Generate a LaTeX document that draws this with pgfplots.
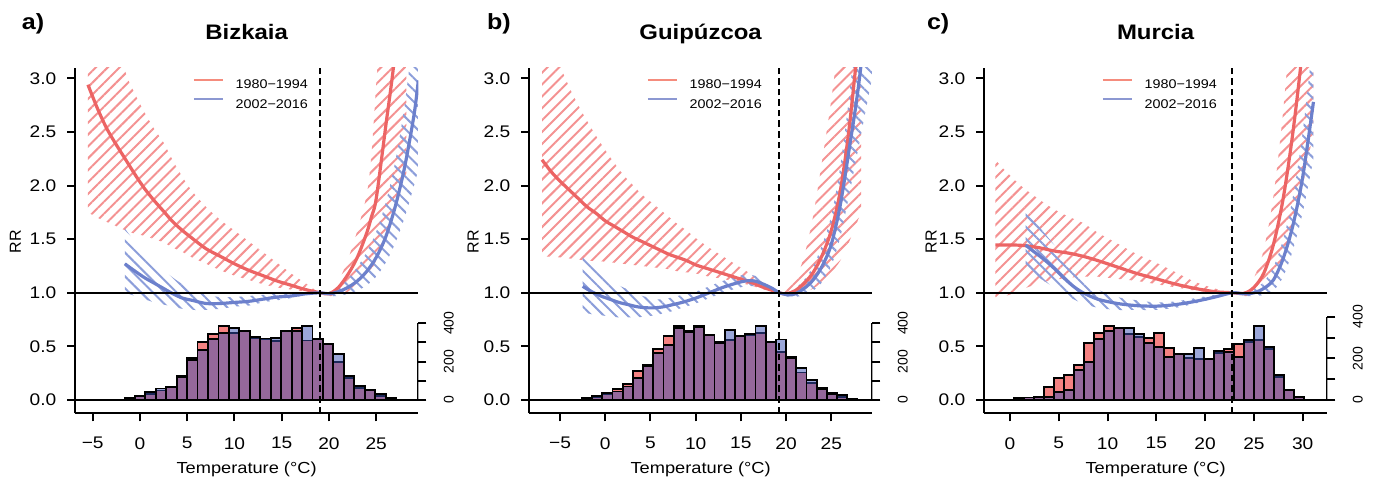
\documentclass[border=0pt]{standalone}
\usepackage{fontspec}
\setmainfont{Liberation Sans}[FakeStretch=1.14]
\newfontfamily\uprightsans{Liberation Sans}
\usepackage{pgfplots}
\usepackage{pgfplotstable}
\pgfplotsset{compat=1.18}
\usepgfplotslibrary{fillbetween}
\usetikzlibrary{patterns.meta}

\definecolor{hatchred}{RGB}{244,146,146}
\definecolor{hatchblue}{RGB}{140,158,218}
\definecolor{curvered}{RGB}{236,100,100}
\definecolor{curveblue}{RGB}{108,128,204}
\definecolor{histred}{RGB}{245,130,130}
\definecolor{histblue}{RGB}{55,80,180}
\definecolor{legred}{RGB}{245,140,125}
\definecolor{legblue}{RGB}{140,152,210}

\newcommand\ticksize{\fontsize{8.4bp}{9bp}\selectfont}
\newcommand\titlesize{\fontsize{10.5bp}{12bp}\selectfont\bfseries}
\newcommand\lettersize{\fontsize{11bp}{12bp}\selectfont\bfseries}
\newcommand\labsize{\fontsize{8bp}{9bp}\selectfont}
\newcommand\rrsize{\uprightsans\fontsize{8bp}{9bp}\selectfont}
\newcommand\legsize{\fontsize{6.3bp}{7bp}\selectfont}
\newcommand\countsize{\uprightsans\fontsize{7bp}{8bp}\selectfont}

% ---------- relative risk curves: T, RR, lower and upper bound ----------
\pgfplotstableread{
T rr lo hi
-5.5 2.94 1.75 5.00
-4.5 2.72 1.70 4.40
-3.5 2.53 1.66 3.90
-2.5 2.38 1.62 3.45
-1.5 2.24 1.58 3.05
-0.5 2.10 1.55 2.85
0.5 1.97 1.53 2.68
1.5 1.86 1.50 2.53
2.5 1.76 1.47 2.40
3.5 1.66 1.42 2.23
4.5 1.58 1.38 2.08
5.5 1.51 1.33 1.95
7.0 1.41 1.27 1.80
8.5 1.34 1.21 1.68
10.0 1.27 1.16 1.58
11.5 1.21 1.12 1.48
13.0 1.16 1.08 1.38
14.5 1.11 1.05 1.28
16.0 1.07 1.03 1.18
17.5 1.03 1.01 1.09
19.1 1.00 1.00 1.00
20.0 0.99 0.97 1.03
21.0 1.05 0.98 1.11
22.0 1.17 1.01 1.31
23.0 1.33 1.06 1.58
24.0 1.56 1.15 1.92
24.5 1.71 1.22 2.30
25.0 1.88 1.30 2.95
26.0 2.55 1.52 4.20
27.0 3.25 1.83 5.60
28.2 4.50 2.12 7.50
}\curveRA

\pgfplotstableread{
T rr lo hi
-1.6 1.27 1.00 1.60
-0.5 1.20 0.97 1.47
0.5 1.14 0.94 1.37
1.5 1.09 0.91 1.29
2.5 1.04 0.89 1.21
3.5 0.99 0.87 1.14
4.5 0.95 0.85 1.08
5.5 0.93 0.84 1.03
7.0 0.90 0.84 0.98
8.5 0.90 0.85 0.96
10.0 0.91 0.87 0.96
11.5 0.92 0.88 0.97
13.0 0.94 0.91 0.98
14.5 0.96 0.93 0.99
16.0 0.97 0.95 1.00
17.5 0.99 0.98 1.00
19.1 1.00 1.00 1.00
20.0 0.99 0.97 1.01
21.0 1.01 0.97 1.05
22.0 1.05 0.99 1.13
23.0 1.11 1.02 1.24
24.0 1.20 1.07 1.38
25.0 1.33 1.15 1.57
26.0 1.52 1.28 1.84
27.0 1.80 1.46 2.22
28.0 2.17 1.70 2.75
29.0 2.66 2.00 3.50
29.45 2.98 2.15 4.00
}\curveBA

\pgfplotstableread{
T rr lo hi
-7.0 2.24 1.34 3.70
-6.0 2.13 1.335 3.40
-5.0 2.04 1.33 3.12
-4.0 1.96 1.32 2.92
-3.0 1.88 1.31 2.75
-2.0 1.80 1.30 2.60
-1.0 1.74 1.295 2.46
0.0 1.67 1.29 2.33
1.0 1.62 1.28 2.21
2.0 1.57 1.27 2.10
3.0 1.52 1.26 2.01
4.0 1.48 1.25 1.92
5.0 1.44 1.24 1.85
6.0 1.40 1.23 1.78
7.0 1.36 1.22 1.71
8.0 1.33 1.20 1.64
9.0 1.30 1.19 1.58
10.0 1.26 1.18 1.51
11.5 1.22 1.15 1.42
13.0 1.18 1.13 1.34
14.5 1.14 1.10 1.26
16.0 1.10 1.07 1.18
17.5 1.05 1.03 1.09
19.25 1.00 1.00 1.00
20.0 0.99 0.97 1.03
21.0 1.02 0.98 1.12
22.0 1.09 1.00 1.34
23.0 1.19 1.04 1.72
24.0 1.35 1.10 2.24
25.0 1.58 1.19 2.80
26.0 1.95 1.30 3.50
27.0 2.55 1.48 4.50
28.3 3.60 1.75 6.50
}\curveRB

\pgfplotstableread{
T rr lo hi
-2.5 1.06 0.82 1.36
-1.5 1.01 0.80 1.28
-0.5 0.97 0.79 1.20
0.5 0.94 0.78 1.13
1.5 0.91 0.77 1.07
2.5 0.89 0.77 1.03
3.5 0.87 0.77 0.99
4.5 0.86 0.78 0.96
5.5 0.86 0.79 0.94
6.5 0.87 0.81 0.94
7.5 0.89 0.83 0.96
8.5 0.91 0.86 0.98
10.0 0.95 0.90 1.01
11.5 1.00 0.95 1.06
13.0 1.05 1.00 1.11
14.5 1.09 1.04 1.15
15.5 1.11 1.06 1.17
16.5 1.11 1.06 1.16
17.5 1.08 1.04 1.12
18.5 1.04 1.02 1.06
19.25 1.00 1.00 1.00
20.3 0.98 0.96 1.01
21.0 0.99 0.96 1.04
22.0 1.04 0.98 1.12
23.0 1.12 1.02 1.25
24.0 1.25 1.10 1.45
25.0 1.45 1.25 1.72
26.0 1.82 1.52 2.18
27.0 2.35 1.92 2.85
28.0 2.92 2.35 3.70
29.5 4.00 3.00 5.40
}\curveBB

\pgfplotstableread{
T rr lo hi
-1.5 1.445 0.96 2.24
-0.5 1.445 0.97 2.14
0.5 1.445 1.00 2.05
1.5 1.44 1.04 1.97
3.0 1.42 1.09 1.87
4.5 1.39 1.12 1.78
6.0 1.37 1.14 1.71
7.5 1.34 1.15 1.65
9.0 1.30 1.15 1.56
11.0 1.24 1.13 1.46
13.0 1.18 1.11 1.36
15.0 1.13 1.08 1.28
17.0 1.08 1.05 1.19
19.0 1.04 1.02 1.10
21.0 1.01 1.00 1.04
22.8 1.00 1.00 1.00
24.0 0.995 0.97 1.03
25.0 1.05 0.98 1.14
26.0 1.18 1.03 1.40
27.0 1.45 1.15 1.90
28.0 1.88 1.35 2.70
29.0 2.50 1.65 3.80
30.0 3.30 2.00 5.20
31.1 4.50 2.50 7.50
}\curveRC

\pgfplotstableread{
T rr lo hi
1.6 1.445 1.22 1.77
2.5 1.38 1.17 1.67
3.5 1.31 1.11 1.56
4.5 1.23 1.05 1.45
5.5 1.14 0.99 1.33
6.5 1.06 0.94 1.21
7.5 1.00 0.90 1.12
9.0 0.94 0.86 1.03
11.0 0.90 0.84 0.96
13.0 0.88 0.84 0.93
15.0 0.875 0.84 0.91
17.0 0.89 0.86 0.92
19.0 0.92 0.90 0.95
21.0 0.96 0.95 0.98
22.8 1.00 1.00 1.00
24.0 0.99 0.97 1.01
25.0 1.00 0.97 1.04
26.0 1.04 0.98 1.10
27.0 1.12 1.02 1.24
28.0 1.32 1.15 1.50
29.0 1.63 1.40 1.90
30.0 2.08 1.75 2.50
31.1 2.78 2.25 3.40
}\curveBC

% ---------- daily temperature counts: left bin edge, 1980-1994, 2002-2016 ----------
\pgfplotstableread{
T red blue
-1.635 6 10
-0.530 20 18
0.575 30 40
1.680 50 60
2.785 66 66
3.890 125 120
4.995 217 208
6.100 304 261
7.205 343 317
8.310 386 351
9.415 348 374
10.520 362 362
11.625 325 329
12.730 316 321
13.835 307 323
14.940 362 362
16.045 376 362
17.150 310 386
18.255 320 316
19.360 295 290
20.465 200 240
21.570 113 125
22.675 61 73
23.780 52 52
24.885 21 30
25.990 9 9
27.095 0 0
}\histA

\pgfplotstableread{
T red blue
-2.60 9 7
-1.47 15 20
-0.34 31 38
0.79 56 44
1.92 85 70
3.05 150 113
4.18 183 175
5.31 265 247
6.44 334 287
7.57 386 375
8.70 362 356
9.83 386 380
10.96 339 339
12.09 304 296
13.22 313 365
14.35 334 334
15.48 339 344
16.61 351 386
17.74 304 304
18.87 252 316
20.00 223 217
21.13 143 165
22.26 87 104
23.39 61 56
24.52 35 31
25.65 17 26
26.78 8 6
27.91 0 0
}\histB

\pgfplotstableread{
T red blue
0.410 4 8
1.435 12 12
2.460 14 12
3.485 64 14
4.510 104 40
5.535 120 48
6.560 168 144
7.585 275 184
8.610 323 291
9.635 355 333
10.660 344 344
11.685 317 344
12.710 304 317
13.735 296 272
14.760 320 256
15.785 251 208
16.810 221 221
17.835 200 221
18.860 195 248
19.885 195 195
20.910 224 237
21.935 243 230
22.960 267 208
23.985 280 288
25.010 288 355
26.035 243 256
27.060 112 120
28.085 48 48
29.110 13 13
30.135 0 0
}\histC

\pgfplotsset{
  panelbox/.style={
    scale only axis, width=171.65bp, height=172.65bp, anchor=south west,
  },
  rrpanel/.style={
    panelbox,
    ymin=-0.124, ymax=3.096,
    axis x line*=bottom, axis y line*=left,
    axis line style={-, line width=1bp},
    every outer x axis line/.append style={-},
    every outer y axis line/.append style={-},
    tick align=outside, major tick length=4bp,
    tick style={line width=1bp, black},
    minor tick num=0,
    ytick={0,0.5,1,1.5,2,2.5,3},
    yticklabels={0.0,0.5,1.0,1.5,2.0,2.5,3.0},
    xticklabel style={font=\ticksize, anchor=north, inner sep=0pt, yshift=-7.85bp},
    yticklabel style={font=\ticksize, anchor=east, inner sep=0pt, xshift=-5.15bp},
    legend style={draw=none, fill=none, inner sep=0pt, outer sep=0pt,
      font=\legsize, row sep=4.7bp, anchor=north west,
      at={(rel axis cs:0.343,0.9687)},
      nodes={inner sep=0pt, text height=4.5bp, text depth=0pt},
      /tikz/every odd column/.append style={column sep=5.8bp}},
    legend cell align=left,
    legend image code/.code={\draw[##1] (0bp,2.25bp) -- (14.5bp,2.25bp);},
  },
  histpanel/.style={
    panelbox,
    axis x line=none, axis y line*=right,
    y axis line style={draw=none},
    tick align=outside, major tick length=4bp,
    tick style={line width=1bp, black},
    ytick={0,100,200,300,400},
    yticklabels={0,,200,,400},
    yticklabel style={font=\countsize, xshift=8.6bp, rotate=90, anchor=north, inner sep=0pt},
  },
  hatchR/.style={draw=none, forget plot, pattern color=hatchred,
    pattern={Lines[angle=45, distance=4.2bp, line width=1bp]}},
  hatchB/.style={draw=none, forget plot, pattern color=hatchblue,
    pattern={Lines[angle=-45, distance=4.2bp, line width=1bp]}},
  barR/.style={ybar interval, fill=histred, draw=black, line width=0.9bp, forget plot},
  barB/.style={ybar interval, fill=histblue, fill opacity=0.5, draw=black, line width=0.9bp, forget plot},
  curveR/.style={curvered, line width=1.6bp, smooth, forget plot},
  curveB/.style={curveblue, line width=1.6bp, smooth, forget plot},
}

\begin{document}
\begin{tikzpicture}

% ===================== a) Bizkaia =====================
\begin{axis}[histpanel, at={(37.5bp,35.35bp)}, xmin=-6.87, xmax=29.45, ymin=-69.4, ymax=1731.9]
  \addplot[barR] table[x=T, y=red] {\histA};
  \addplot[barB] table[x=T, y=blue] {\histA};
  \draw[line width=1bp] (axis cs:29.45,0) -- (axis cs:29.45,400);
\end{axis}
\begin{axis}[rrpanel, at={(37.5bp,35.35bp)}, xmin=-6.87, xmax=29.45,
    xtick={-5,0,5,10,15,20,25}, xticklabels={−5,0,5,10,15,20,25}]
  \addplot[draw=none, forget plot, smooth, name path=ralo] table[x=T, y=lo] {\curveRA};
  \addplot[draw=none, forget plot, smooth, name path=rahi] table[x=T, y=hi] {\curveRA};
  \addplot[hatchR] fill between[of=rahi and ralo];
  \addplot[draw=none, forget plot, smooth, name path=balo] table[x=T, y=lo] {\curveBA};
  \addplot[draw=none, forget plot, smooth, name path=bahi] table[x=T, y=hi] {\curveBA};
  \addplot[hatchB] fill between[of=bahi and balo];
  \addplot[curveR] table[x=T, y=rr] {\curveRA};
  \addplot[curveB] table[x=T, y=rr] {\curveBA};
  \addplot[black, line width=1bp, forget plot] coordinates {(-6.87,1) (29.45,1)};
  \addplot[black, line width=1bp, forget plot] coordinates {(-6.87,0) (29.45,0)};
  \addplot[black, line width=1bp, dash pattern=on 3.3bp off 2bp, forget plot] coordinates {(19.1,-0.124) (19.1,3.096)};
  \addlegendimage{legred, line width=1.1bp}
  \addlegendentry{1980−1994}
  \addlegendimage{legblue, line width=1.1bp}
  \addlegendentry{2002−2016}
\end{axis}

% ===================== b) Guipúzcoa =====================
\begin{axis}[histpanel, at={(264.5bp,35.35bp)}, xmin=-8.44, xmax=29.54, ymin=-69.4, ymax=1731.9]
  \addplot[barR] table[x=T, y=red] {\histB};
  \addplot[barB] table[x=T, y=blue] {\histB};
  \draw[line width=1bp] (axis cs:29.54,0) -- (axis cs:29.54,400);
\end{axis}
\begin{axis}[rrpanel, at={(264.5bp,35.35bp)}, xmin=-8.44, xmax=29.54,
    xtick={-5,0,5,10,15,20,25}, xticklabels={−5,0,5,10,15,20,25}]
  \addplot[draw=none, forget plot, smooth, name path=rblo] table[x=T, y=lo] {\curveRB};
  \addplot[draw=none, forget plot, smooth, name path=rbhi] table[x=T, y=hi] {\curveRB};
  \addplot[hatchR] fill between[of=rbhi and rblo];
  \addplot[draw=none, forget plot, smooth, name path=bblo] table[x=T, y=lo] {\curveBB};
  \addplot[draw=none, forget plot, smooth, name path=bbhi] table[x=T, y=hi] {\curveBB};
  \addplot[hatchB] fill between[of=bbhi and bblo];
  \addplot[curveR] table[x=T, y=rr] {\curveRB};
  \addplot[curveB] table[x=T, y=rr] {\curveBB};
  \addplot[black, line width=1bp, forget plot] coordinates {(-8.44,1) (29.54,1)};
  \addplot[black, line width=1bp, forget plot] coordinates {(-8.44,0) (29.54,0)};
  \addplot[black, line width=1bp, dash pattern=on 3.3bp off 2bp, forget plot] coordinates {(19.25,-0.124) (19.25,3.096)};
  \addlegendimage{legred, line width=1.1bp}
  \addlegendentry{1980−1994}
  \addlegendimage{legblue, line width=1.1bp}
  \addlegendentry{2002−2016}
\end{axis}

% ===================== c) Murcia =====================
\begin{axis}[histpanel, at={(492bp,35.35bp)}, xmin=-2.66, xmax=32.52, ymin=-63.8, ymax=1593.9]
  \addplot[barR] table[x=T, y=red] {\histC};
  \addplot[barB] table[x=T, y=blue] {\histC};
  \draw[line width=1bp] (axis cs:32.52,0) -- (axis cs:32.52,400);
\end{axis}
\begin{axis}[rrpanel, at={(492bp,35.35bp)}, xmin=-2.66, xmax=32.52,
    xtick={0,5,10,15,20,25,30}, xticklabels={0,5,10,15,20,25,30}]
  \addplot[draw=none, forget plot, smooth, name path=rclo] table[x=T, y=lo] {\curveRC};
  \addplot[draw=none, forget plot, smooth, name path=rchi] table[x=T, y=hi] {\curveRC};
  \addplot[hatchR] fill between[of=rchi and rclo];
  \addplot[draw=none, forget plot, smooth, name path=bclo] table[x=T, y=lo] {\curveBC};
  \addplot[draw=none, forget plot, smooth, name path=bchi] table[x=T, y=hi] {\curveBC};
  \addplot[hatchB] fill between[of=bchi and bclo];
  \addplot[curveR] table[x=T, y=rr] {\curveRC};
  \addplot[curveB] table[x=T, y=rr] {\curveBC};
  \addplot[black, line width=1bp, forget plot] coordinates {(-2.66,1) (32.52,1)};
  \addplot[black, line width=1bp, forget plot] coordinates {(-2.66,0) (32.52,0)};
  \addplot[black, line width=1bp, dash pattern=on 3.3bp off 2bp, forget plot] coordinates {(22.8,-0.124) (22.8,3.096)};
  \addlegendimage{legred, line width=1.1bp}
  \addlegendentry{1980−1994}
  \addlegendimage{legblue, line width=1.1bp}
  \addlegendentry{2002−2016}
\end{axis}

% ---------- titles, panel letters and axis labels ----------
\node[font=\lettersize, anchor=base west, inner sep=0pt] at (10.8bp,227bp) {a)};
\node[font=\lettersize, anchor=base west, inner sep=0pt] at (243.3bp,227bp) {b)};
\node[font=\lettersize, anchor=base west, inner sep=0pt] at (463.3bp,227bp) {c)};
\node[font=\titlesize, anchor=base, inner sep=0pt] at (123.3bp,222bp) {Bizkaia};
\node[font=\titlesize, anchor=base, inner sep=0pt] at (350.3bp,222bp) {Guipúzcoa};
\node[font=\titlesize, anchor=base, inner sep=0pt] at (577.8bp,222bp) {Murcia};
\node[font=\labsize, anchor=base, inner sep=0pt] at (123.3bp,5.35bp) {Temperature (°C)};
\node[font=\labsize, anchor=base, inner sep=0pt] at (350.3bp,5.35bp) {Temperature (°C)};
\node[font=\labsize, anchor=base, inner sep=0pt] at (577.8bp,5.35bp) {Temperature (°C)};
\node[font=\rrsize, rotate=90, inner sep=0pt] at (7.65bp,121.15bp) {RR};
\node[font=\rrsize, rotate=90, inner sep=0pt] at (236.5bp,121.15bp) {RR};
\node[font=\rrsize, rotate=90, inner sep=0pt] at (465.5bp,121.15bp) {RR};

% page frame: 1379 x 484 units of half a big point
\pgfresetboundingbox
\path[use as bounding box] (0,0) rectangle (689.5bp,242bp);
\end{tikzpicture}
\end{document}
